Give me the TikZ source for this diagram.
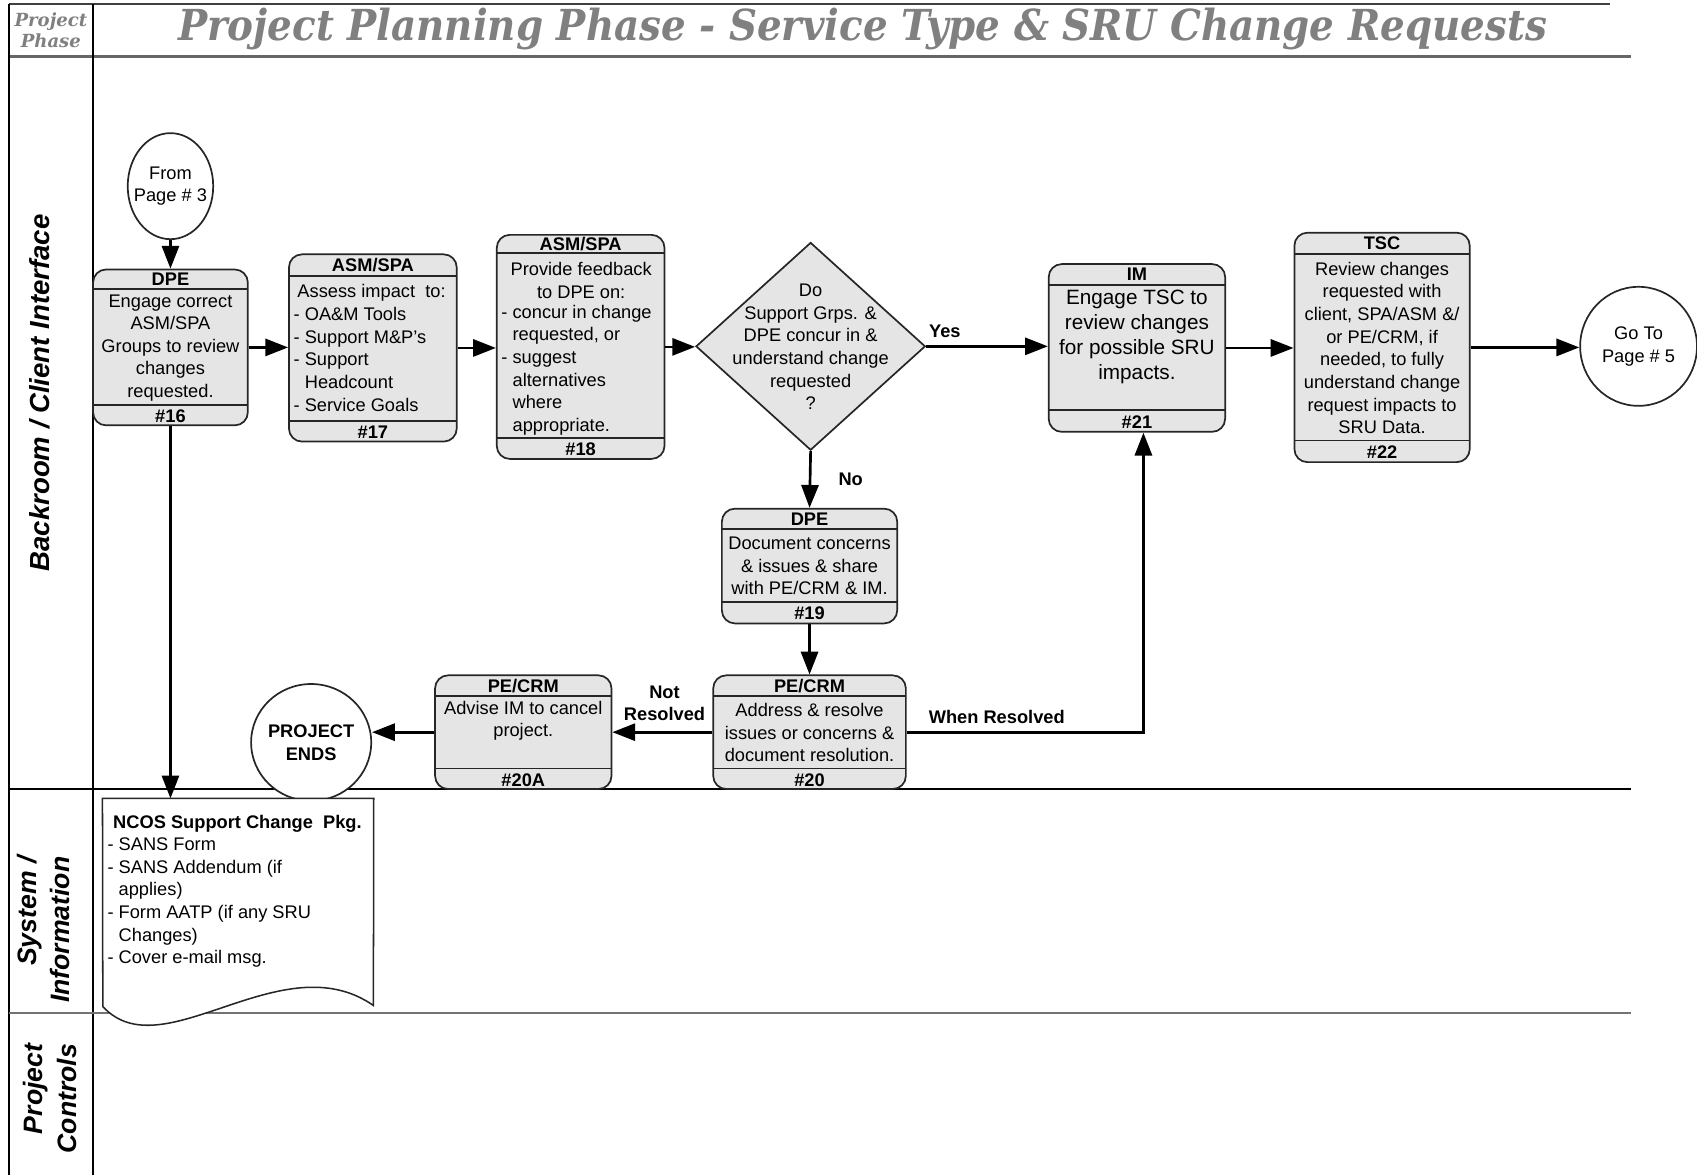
\documentclass[tikz,border=0pt]{standalone}
\usepackage{fontspec}
\setmainfont{Liberation Sans}
\newfontfamily\slab{DejaVu Serif}
\usetikzlibrary{shapes.geometric,arrows.meta}
\definecolor{boxgray}{RGB}{229,229,229}
\definecolor{titlegray}{RGB}{128,128,128}
\newcommand\pbox[9]{%
  \pgfmathsetmacro\pw{(#4-#2)*0.02}%
  \pgfmathsetmacro\ph{(#5-#3)*0.02}%
  \node[procbox, minimum width=\pw cm, minimum height=\ph cm] (#1) at ({(#2+#4)/2},{(#3+#5)/2}) {};
  \draw[boxline] (#2,#6) -- (#4,#6);
  \draw[boxline] (#2,#7) -- (#4,#7);
  \node[hdr] (#1-h) at ({(#2+#4)/2},{(#3+#6)/2}) {#8};
  \node[hdr] (#1-f) at ({(#2+#4)/2},{(#7+#5)/2+1}) {#9};
}
\begin{document}
\begin{tikzpicture}[x=0.02cm,y=-0.02cm,
  every node/.style={inner sep=0pt, font=\fontsize{9.6}{11.9}\selectfont},
  procbox/.style={rectangle, draw=black!85, line width=0.9pt, fill=boxgray, rounded corners=0.24cm},
  boxline/.style={draw=black!85, line width=0.9pt},
  hdr/.style={font=\fontsize{9.6}{11.9}\selectfont\bfseries},
  body/.style={align=center},
  arr/.style={line width=1.4pt, -{Triangle[length=12pt,width=9pt]}},
  lbl/.style={font=\fontsize{9.6}{11.9}\selectfont\bfseries, align=center},
  lane/.style={rotate=90, font=\fontsize{14.5}{17.6}\selectfont\bfseries\itshape},
  term/.style={ellipse, draw=black!85, line width=0.9pt, fill=white},
  frame/.style={line width=0.9pt, draw=black}
]
\useasboundingbox (0,0) rectangle (1568,1086);

% ---------- frame and lanes ----------
\draw[line width=1.1pt, black!75] (8,4) -- (1488,4);
\draw[line width=1.3pt, black!60] (8,52) -- (1507,52);
\draw[frame] (8,4) -- (8,1086);
\draw[frame] (86,4) -- (86,1086);
\draw[frame] (8,729) -- (1507,729);
\draw[line width=1.3pt, black!55] (8,936) -- (1507,936);

% ---------- header ----------
\node[font=\slab\bfseries\itshape\fontsize{9.5}{11.4}\selectfont, text=titlegray, align=center] (phase) at (47,28) {Project\\Phase};
\node[font=\slab\bfseries\itshape, text=titlegray, anchor=base] (title) at (797,37)
  {\resizebox{25.3cm}{0.6cm}{Project Planning Phase - Service Type \& SRU Change Requests}};

% ---------- lane labels ----------
\node[lane] (lane1) at (37,363) {Backroom / Client Interface};
\node[lane, font=\fontsize{14}{17.6}\selectfont\bfseries\itshape, align=right] (lane2) at (40,859) {System /\\Information};
\node[lane, font=\fontsize{14}{17.6}\selectfont\bfseries\itshape, align=right] (lane3) at (46,1015) {Project\\Controls};

% ---------- terminals ----------
\node[term, minimum width=1.58cm, minimum height=1.96cm] (from3) at (157.5,172) {};
\node[align=center] (from3-t) at (157.5,172) {From\\Page \# 3};
\node[term, minimum width=2.16cm, minimum height=2.2cm] (goto) at (1514,320) {};
\node[align=center] (goto-t) at (1514,320) {Go To\\Page \# 5};
\node[term, minimum width=2.22cm, minimum height=2.16cm] (pend) at (287.5,686) {};
\node[lbl] (pend-t) at (287.5,686) {PROJECT\\ENDS};

% ---------- process boxes ----------
\pbox{n16}{86}{249}{229}{393}{267}{374}{DPE}{\#16}
\node[body] (n16-b) at (157.5,321.5) {Engage correct\\ASM/SPA\\Groups to review\\changes\\requested.};

\pbox{n17}{267}{235}{422}{408}{255}{389}{ASM/SPA}{\#17}
\node[align=left, anchor=west] (n17-b) at (271,321.5) {\hspace{2pt}Assess impact~ to:\\- OA\&M Tools\\- Support M\&P's\\- Support\\\phantom{- }Headcount\\- Service Goals};

\pbox{n18}{459}{217}{614}{424}{234}{405}{ASM/SPA}{\#18}
\node[body] (n18-a) at (537,259) {Provide feedback\\to DPE on:};
\node[align=left, anchor=west] (n18-b) at (463,342) {- concur in change\\\phantom{- }requested, or\\- suggest\\\phantom{- }alternatives\\\phantom{- }where\\\phantom{- }appropriate.};

\node[diamond, draw=black!85, line width=0.9pt, fill=boxgray, minimum width=4.24cm, minimum height=3.84cm] (dq) at (749,320) {};
\node[body] (dq-t) at (749,320.5) {Do\\Support Grps. \&\\DPE concur in \&\\understand change\\requested\\?};

\pbox{n21}{969}{244}{1132}{399}{263}{379}{IM}{\#21}
\node[body, font=\fontsize{10.9}{13.1}\selectfont] (n21-b) at (1050.5,311) {Engage TSC to\\review changes\\for possible SRU\\impacts.};

\pbox{n22}{1196}{215}{1358}{427}{235}{407}{TSC}{\#22}
\node[body] (n22-b) at (1277,321.5) {Review changes\\requested with\\client, SPA/ASM \&/\\or PE/CRM, if\\needed, to fully\\understand change\\request impacts to\\SRU Data.};

\pbox{n19}{667}{470}{829}{576}{489}{556}{DPE}{\#19}
\node[body] (n19-b) at (748,523) {Document concerns\\\& issues \& share\\with PE/CRM \& IM.};

\pbox{n20}{659}{624}{837}{729}{643}{710}{PE/CRM}{\#20}
\node[body] (n20-b) at (748,677) {Address \& resolve\\issues or concerns \&\\document resolution.};

\pbox{n20a}{402}{624}{565}{729}{643}{710}{PE/CRM}{\#20A}
\node[body] (n20a-b) at (483.5,666) {Advise IM to cancel\\project.};

% ---------- document ----------
\node[minimum width=5cm, minimum height=3.84cm] (doc) at (220,834) {};
\draw[line width=0.8pt, draw=black!85, fill=white] (doc.north west) -- (doc.north east) -- (345,929)
  .. controls (260,870) and (150,990) .. (95,930) -- cycle;
\node[align=left, anchor=west] (doc-t) at (99,823.5) {\hspace{3pt}\textbf{NCOS Support Change~ Pkg.}\\- SANS Form\\- SANS Addendum (if\\\phantom{- }applies)\\- Form AATP (if any SRU\\\phantom{- }Changes)\\- Cover e-mail msg.};

% ---------- connectors ----------
\draw[arr] (from3.south) -- (n16.north);
\draw[arr] (n16.east) -- (n16.east -| n17.west);
\draw[arr] (n17.east) -- (n17.east -| n18.west);
\draw[arr] (n18.east) -- (n18.east -| dq.west);
\draw[arr] (dq.east) -- (dq.east -| n21.west);
\draw[arr] (n21.east) -- (n21.east -| n22.west);
\draw[arr] (n22.east) -- (n22.east -| goto.west);
\draw[arr] (dq.south) -- (n19.north);
\draw[arr] (n19.south) -- (n20.north);
\draw[arr] (n20.west) -- (n20a.east);
\draw[arr] (n20a.west) -- (n20a.west -| pend.east);
\draw[arr] (n20.east) -| ([xshift=0.12cm]n21.south);
\draw[arr] (n16.south) -- (n16.south |- doc.north);

% ---------- connector labels ----------
\node[lbl] (yes) at (873,306) {Yes};
\node[lbl] (no) at (786,443) {No};
\node[lbl] (notres) at (614,650) {Not\\Resolved};
\node[lbl] (whenres) at (921,662) {When Resolved};
\end{tikzpicture}
\end{document}
